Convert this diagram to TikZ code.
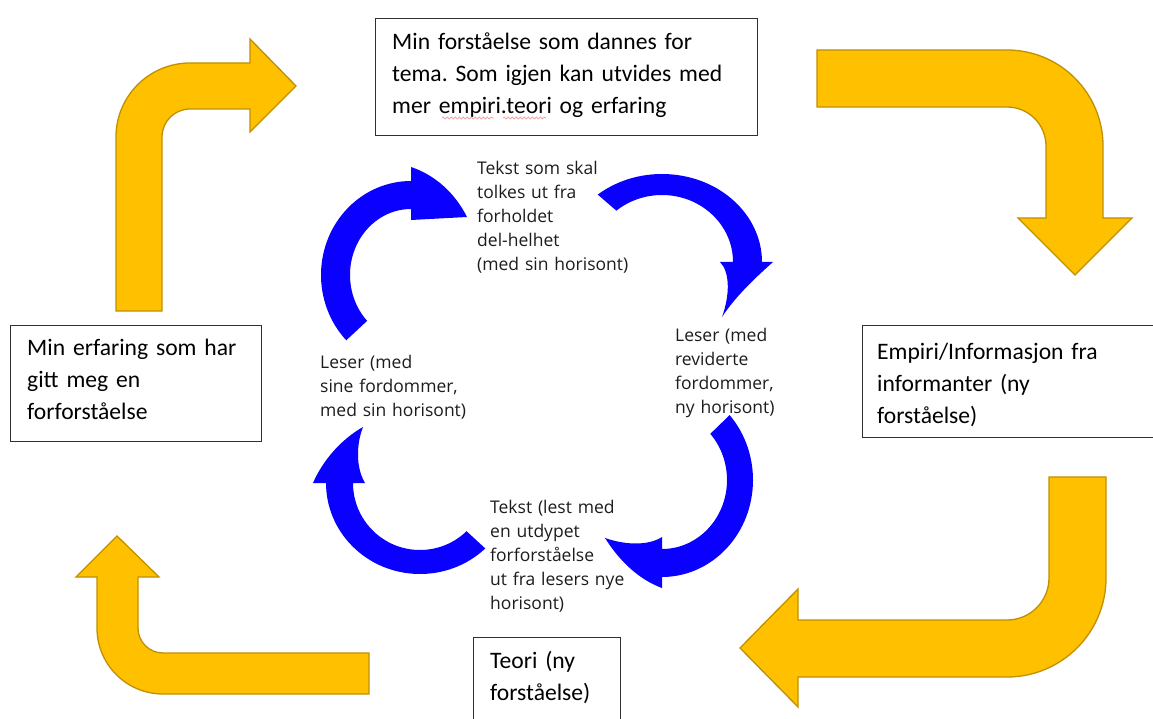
\documentclass[tikz,border=0pt]{standalone}
\usepackage{fontspec}
\usetikzlibrary{decorations.pathmorphing}
\setmainfont{Carlito}
\newfontfamily\cyclefont{Open Sans}
\definecolor{arrowgold}{HTML}{FFC000}
\definecolor{arrowedge}{HTML}{BF9000}
\definecolor{cycleblue}{HTML}{0A00FF}
\definecolor{textgray}{HTML}{1E1B1C}
\definecolor{boxline}{HTML}{303030}
\definecolor{spellred}{HTML}{E04040}
\frenchspacing
\begin{document}
\begin{tikzpicture}[x=1pt, y=-1pt,
  yarrow/.style={fill=arrowgold, draw=arrowedge, line width=1.3pt, line join=miter},
  barrow/.style={fill=cycleblue},
  box/.style={draw=boxline, line width=1.1pt, fill=white, anchor=north west, inner sep=0pt},
  boxtext/.style={anchor=base west, inner sep=0pt, text width=380pt, align=left,
    font=\fontsize{23.6}{32}\selectfont, text=black},
  cycletext/.style={anchor=base west, inner sep=0pt, text width=200pt, align=left,
    font=\cyclefont\fontsize{17.5}{24}\selectfont, text=textgray},
  spellmark/.style={draw=spellred, opacity=0.45, line width=0.9pt,
    decorate, decoration={snake, amplitude=0.9pt, segment length=4pt}}]
\useasboundingbox (0,0) rectangle (1153,719);

% ---- outer loop: four bent yellow arrows ----
\filldraw[yarrow] (116,311) -- (116,137) arc[start angle=180, end angle=270, radius=74]
  -- (250,63) -- (250,39) -- (296,86) -- (250,132) -- (250,109) -- (190,109)
  arc[start angle=270, end angle=180, radius=28] -- (162,311) -- cycle;
\filldraw[yarrow] (817,50) -- (1007,50) arc[start angle=270, end angle=360, radius=96]
  -- (1103,218) -- (1132,218) -- (1075,275) -- (1018,218) -- (1046,218) -- (1046,146)
  arc[start angle=0, end angle=-90, radius=39] -- (817,107) -- cycle;
\filldraw[yarrow] (1049,477) -- (1106,477) -- (1106,578) arc[start angle=0, end angle=90, radius=99]
  -- (798,677) -- (798,707) -- (740,648) -- (798,589) -- (798,620) -- (1007,620)
  arc[start angle=90, end angle=0, radius=42] -- cycle;
\filldraw[yarrow] (369,653) -- (369,694) -- (163,694) arc[start angle=90, end angle=180, radius=66]
  -- (97,577) -- (76,577) -- (117,536) -- (159,577) -- (138,577) -- (138,628)
  arc[start angle=180, end angle=90, radius=25] -- cycle;

% ---- inner cycle: four curved blue arrows (elliptic arcs) ----
% upper left, ending in a head pointing right
\fill[barrow] (411,275) ++(136:90 and 94) arc[start angle=136, end angle=270, x radius=90, y radius=94]
  -- (411,167) .. controls (435,175) and (455,193) .. (467,217) -- (411,220) -- (411,209)
  arc[start angle=270, end angle=136, x radius=61, y radius=66] -- cycle;
% upper right, ending in a head pointing down
\fill[barrow] (662,262) ++(230:100 and 88) arc[start angle=230, end angle=360, x radius=100, y radius=88]
  -- (773,262) .. controls (755,278) and (735,297) .. (722,317)
  .. controls (730,295) and (730,272) .. (720,262) -- (733,262)
  arc[start angle=360, end angle=230, x radius=71, y radius=67] -- cycle;
% lower right, ending in a head pointing left
\fill[barrow] (662,480) ++(-42:91 and 97) arc[start angle=-42, end angle=90, x radius=91, y radius=97]
  -- (662,588) .. controls (640,580) and (620,562) .. (605,538)
  .. controls (625,545) and (648,546) .. (662,537) -- (662,549)
  arc[start angle=90, end angle=-42, x radius=65, y radius=69] -- cycle;
% lower left, ending in a head pointing up
\fill[barrow] (420,483) ++(46:94 and 91) arc[start angle=46, end angle=180, x radius=94, y radius=91]
  -- (313,483) .. controls (322,462) and (340,440) .. (363,427)
  .. controls (356,445) and (356,468) .. (365,483) -- (353,483)
  arc[start angle=180, end angle=46, x radius=67, y radius=67] -- cycle;

% ---- boxes ----
\node[box, minimum width=382pt, minimum height=117pt] (understanding) at (375,18) {};
\node[box, minimum width=251pt, minimum height=116pt] (experience) at (10,325) {};
\node[box, minimum width=300pt, minimum height=112pt] (empirical) at (862,325) {};
\node[box, minimum width=147pt, minimum height=90pt] (theory) at (473,637) {};

\node[boxtext] (understandingtext) at (392,50) {Min forståelse som dannes for\\tema. Som igjen kan utvides med\\mer empiri.teori og erfaring};
\node[boxtext] (experiencetext) at (27,355) {Min erfaring som har\\gitt meg en\\forforståelse};
\node[boxtext] (empiricaltext) at (877,359) {Empiri/Informasjon fra\\informanter (ny\\forståelse)};
\node[boxtext] (theorytext) at (490,668) {Teori (ny\\forståelse)};

% faint spell-check marks under "empiri" and "teori"
\coordinate (spellA) at (442,118);
\coordinate (spellB) at (494,118);
\coordinate (spellC) at (503,118);
\coordinate (spellD) at (546,118);
\draw[spellmark] (spellA) -- (spellB);
\draw[spellmark] (spellC) -- (spellD);

% ---- texts of the inner cycle ----
\node[cycletext] (texttop) at (477,175) {Tekst som skal\\tolkes ut fra\\forholdet\\del-helhet\\(med sin horisont)};
\node[cycletext] (readerright) at (675,341) {Leser (med\\reviderte\\fordommer,\\ny horisont)};
\node[cycletext] (readerleft) at (320,368) {Leser (med\\sine fordommer,\\med sin horisont)};
\node[cycletext] (textbottom) at (490,513) {Tekst (lest med\\en utdypet\\forforståelse\\ut fra lesers nye\\horisont)};
\end{tikzpicture}
\end{document}
